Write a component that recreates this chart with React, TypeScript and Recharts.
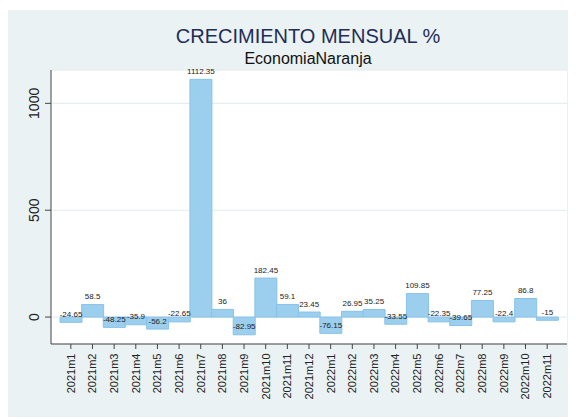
import { BarChart, Bar, XAxis, YAxis, CartesianGrid } from 'recharts'

// categorías (meses)
const months = [
  '2021m1', '2021m2', '2021m3', '2021m4', '2021m5', '2021m6',
  '2021m7', '2021m8', '2021m9', '2021m10', '2021m11', '2021m12',
  '2022m1', '2022m2', '2022m3', '2022m4', '2022m5', '2022m6',
  '2022m7', '2022m8', '2022m9', '2022m10', '2022m11'
]

// crecimiento mensual %
const growth = [
  -24.65, 58.5, -48.25, -35.9, -56.2, -22.65,
  1112.35, 36, -82.95, 182.45, 59.1, 23.45,
  -76.15, 26.95, 35.25, -33.55, 109.85, -22.35,
  -39.65, 77.25, -22.4, 86.8, -15
]

const yTicks = [0, 500, 1000]

const data = months.map((m, i) => ({ month: m, value: growth[i] }))

const FONT = '"Liberation Sans", Arial, Helvetica, sans-serif'
const AXIS = '#444'

const XTick = ({ x, y, payload }: any) => (
  <g transform={`translate(${x},${y}) rotate(-90)`}>
    <text textAnchor="end" dy="0.35em" fontSize={11} fill="#222" fontFamily={FONT}>
      {payload.value}
    </text>
  </g>
)

const YTick = ({ y, payload }: any) => (
  <g transform={`translate(26,${y}) rotate(-90)`}>
    <text textAnchor="middle" dy="0.35em" fontSize={14} fill="#222" fontFamily={FONT}>
      {payload.value}
    </text>
  </g>
)

// etiqueta sobre el extremo de la barra
const renderLabel = (props: any) => {
  const { x, y, width, height, value } = props
  const end = Number(value) >= 0 ? Math.min(y, y + height) : Math.max(y, y + height)
  return (
    <text x={x + width / 2} y={end - 5.5} textAnchor="middle" fontSize={8} fill="#222" fontFamily={FONT}>
      {value}
    </text>
  )
}

export default function App() {
  return (
    <div style={{ position: 'relative', top: 2, width: 568, height: 409, background: '#eaf2f3' }}>
      <svg width={568} height={70} style={{ position: 'absolute', left: 0, top: 0 }}>
        <text x={300} y={33.3} textAnchor="middle" fontSize={20} fill="#1f2d57" fontFamily={FONT}>
          CRECIMIENTO MENSUAL %
        </text>
        <text x={300} y={54} textAnchor="middle" fontSize={16} fill="#111" fontFamily={FONT}>
          EconomiaNaranja
        </text>
      </svg>
      <BarChart
        width={568}
        height={409}
        data={data}
        margin={{ top: 60, right: 9, bottom: 0, left: 0 }}
        barCategoryGap={0}
        style={{ position: 'absolute', left: 0, top: 0 }}
      >
        <CartesianGrid vertical={false} fill="#ffffff" fillOpacity={1} stroke="#e2ebee" />
        <XAxis
          dataKey="month"
          height={75}
          interval={0}
          padding={{ left: 9, right: 9 }}
          axisLine={{ stroke: AXIS }}
          tickLine={{ stroke: AXIS }}
          tickSize={5}
          tickMargin={4.5}
          tick={<XTick />}
        />
        <YAxis
          width={43}
          type="number"
          domain={[-126, 1156]}
          ticks={yTicks}
          axisLine={{ stroke: AXIS }}
          tickLine={{ stroke: AXIS }}
          tickSize={6}
          tick={<YTick />}
        />
        <Bar
          dataKey="value"
          fill="#9ccfee"
          stroke="#88c2e8"
          strokeWidth={1}
          isAnimationActive={false}
          label={renderLabel}
        />
      </BarChart>
    </div>
  )
}
